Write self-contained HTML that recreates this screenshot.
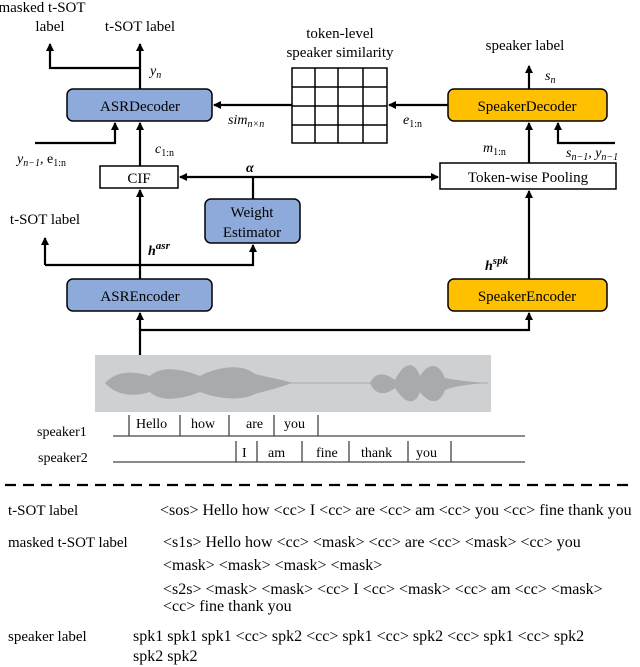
<!DOCTYPE html>
<html><head><meta charset="utf-8"><style>
body{margin:0;background:#fff;}
svg{display:block;font-family:"Liberation Serif",serif;}
</style></head><body>
<svg width="640" height="667" viewBox="0 0 640 667" xmlns="http://www.w3.org/2000/svg">
<defs><marker id="a" markerWidth="8" markerHeight="8" refX="7" refY="4" orient="auto" markerUnits="userSpaceOnUse"><path d="M0,0 L8,4 L0,8 z" fill="#000"/></marker></defs>
<g stroke="#000" stroke-width="2.2" fill="none">
<path d="M140,355 V330 H529 V313" marker-end="url(#a)"/>
<path d="M140,330 V313" marker-end="url(#a)"/>
<path d="M140,279 V190" marker-end="url(#a)"/>
<path d="M45,265 H253 V245" marker-end="url(#a)"/>
<path d="M45,265 V238" marker-end="url(#a)"/>
<path d="M253,199 V177"/>
<path d="M300,177 H180" marker-end="url(#a)"/>
<path d="M300,177 H438" marker-end="url(#a)"/>
<path d="M140,166 V123" marker-end="url(#a)"/>
<path d="M35,143 H115 V123" marker-end="url(#a)"/>
<path d="M140,89 V44" marker-end="url(#a)"/>
<path d="M140,68 H50 V44" marker-end="url(#a)"/>
<path d="M292,105 H214" marker-end="url(#a)"/>
<path d="M448,105 H389" marker-end="url(#a)"/>
<path d="M529,89 V66" marker-end="url(#a)"/>
<path d="M529,163 V123" marker-end="url(#a)"/>
<path d="M615,143 H558 V123" marker-end="url(#a)"/>
<path d="M529,279 V191" marker-end="url(#a)"/>
</g>
<g stroke="#000" stroke-width="1.5">
<rect x="67" y="89" width="145" height="32" rx="6" fill="#8eaadb"/>
<rect x="67" y="279" width="145" height="32" rx="6" fill="#8eaadb"/>
<rect x="205" y="199" width="95" height="44" rx="6" fill="#8eaadb"/>
<rect x="448" y="89" width="159" height="32" rx="6" fill="#ffc000"/>
<rect x="448" y="279" width="159" height="32" rx="6" fill="#ffc000"/>
<rect x="100" y="166" width="78" height="22" fill="#fff"/>
<rect x="440" y="163" width="176" height="26" fill="#fff"/>
</g>
<g stroke="#000" stroke-width="1.5" fill="none">
<rect x="292" y="68" width="95" height="75" fill="#fff"/>
<path d="M315,68V143M338,68V143M363,68V143M292,87H387M292,106H387M292,125H387"/>
</g>
<g font-size="15" text-anchor="middle" fill="#000">
<text x="140" y="111">ASRDecoder</text>
<text x="140" y="301">ASREncoder</text>
<text x="252" y="217">Weight</text>
<text x="252" y="237">Estimator</text>
<text x="527" y="111">SpeakerDecoder</text>
<text x="527" y="301">SpeakerEncoder</text>
<text x="139" y="183">CIF</text>
<text x="528" y="182">Token-wise Pooling</text>
<text x="42" y="12">masked t-SOT</text>
<text x="50" y="31">label</text>
<text x="140" y="31">t-SOT label</text>
<text x="340" y="38">token-level</text>
<text x="340" y="57">speaker similarity</text>
<text x="525" y="50">speaker label</text>
<text x="45" y="224">t-SOT label</text>
</g>
<g font-size="14" fill="#000" font-style="italic">
<text x="150" y="75">y<tspan font-size="10" dy="3">n</tspan></text>
<text x="228" y="124">sim<tspan font-size="10" dy="3">n×n</tspan></text>
<text x="155" y="153">c<tspan font-size="10" dy="3" font-style="normal">1:n</tspan></text>
<text x="17" y="163">y<tspan font-size="10" dy="3">n−1</tspan><tspan dy="-3" font-style="normal">, e</tspan><tspan font-size="10" dy="3" font-style="normal">1:n</tspan></text>
<text x="246" y="172" font-weight="bold">α</text>
<text x="148" y="255" font-weight="bold">h<tspan font-size="11" dy="-6">asr</tspan></text>
<text x="485" y="270" font-weight="bold">h<tspan font-size="11" dy="-6">spk</tspan></text>
<text x="403" y="124">e<tspan font-size="10" dy="3" font-style="normal">1:n</tspan></text>
<text x="545" y="80">s<tspan font-size="10" dy="3">n</tspan></text>
<text x="483" y="152">m<tspan font-size="10" dy="3" font-style="normal">1:n</tspan></text>
<text x="566" y="157">s<tspan font-size="10" dy="3">n−1</tspan><tspan dy="-3">, y</tspan><tspan font-size="10" dy="3">n−1</tspan></text>
</g>
<rect x="95" y="355" width="396" height="57" fill="#cfd0d2"/>
<path d="M105,383 C115,372 130,370 150,376 C160,366 180,368 200,376 C215,368 240,362 255,374 C270,378 285,380 292,383 C285,386 270,390 255,394 C240,402 215,398 200,392 C180,400 160,402 150,392 C130,398 115,394 105,383 Z M370,383 C375,372 385,372 395,380 C405,360 415,362 420,376 C430,360 440,365 445,378 C455,380 470,382 488,383 C470,384 455,386 445,390 C440,404 430,405 420,392 C415,406 405,404 395,388 C385,396 375,395 370,383 Z" fill="#a9aaad"/>
<path d="M105,383 H488" stroke="#a9aaad" stroke-width="1"/>
<g stroke="#444" stroke-width="1.3">
<path d="M113,436H525M113,462H525"/>
<path d="M129,415V436M180,415V436M229,415V436M274,415V436M318,415V436"/>
<path d="M236,441V462M257,441V462M302,441V462M349,441V462M408,441V462M451,441V462"/>
</g>
<g font-size="14" fill="#000">
<text x="37" y="436">speaker1</text>
<text x="38" y="462">speaker2</text>
<text x="136" y="428">Hello</text>
<text x="191" y="428">how</text>
<text x="246" y="428">are</text>
<text x="284" y="428">you</text>
<text x="242" y="457">I</text>
<text x="268" y="457">am</text>
<text x="316" y="457">fine</text>
<text x="361" y="457">thank</text>
<text x="416" y="457">you</text>
</g>
<path d="M5,485H635" stroke="#000" stroke-width="2.2" stroke-dasharray="11,7"/>
<g font-size="16" fill="#000">
<text x="8" y="515" font-size="15">t-SOT label</text>
<text x="160" y="515">&lt;sos&gt; Hello how &lt;cc&gt; I &lt;cc&gt; are &lt;cc&gt; am &lt;cc&gt; you &lt;cc&gt; fine thank you</text>
<text x="8" y="547" font-size="15">masked t-SOT label</text>
<text x="163" y="547">&lt;s1s&gt; Hello how &lt;cc&gt; &lt;mask&gt; &lt;cc&gt; are &lt;cc&gt; &lt;mask&gt; &lt;cc&gt; you</text>
<text x="163" y="570">&lt;mask&gt; &lt;mask&gt; &lt;mask&gt; &lt;mask&gt;</text>
<text x="163" y="594">&lt;s2s&gt; &lt;mask&gt; &lt;mask&gt; &lt;cc&gt; I &lt;cc&gt; &lt;mask&gt; &lt;cc&gt; am &lt;cc&gt; &lt;mask&gt;</text>
<text x="163" y="611">&lt;cc&gt; fine thank you</text>
<text x="8" y="641" font-size="15">speaker label</text>
<text x="133" y="641">spk1 spk1 spk1 &lt;cc&gt;  spk2 &lt;cc&gt; spk1 &lt;cc&gt;  spk2 &lt;cc&gt; spk1 &lt;cc&gt; spk2</text>
<text x="133" y="661">spk2  spk2</text>
</g>
</svg>
</body></html>
